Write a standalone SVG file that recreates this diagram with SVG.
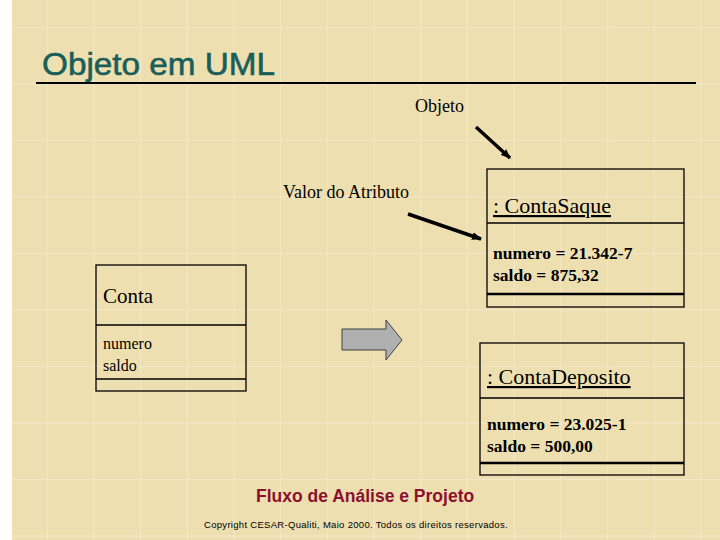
<svg xmlns="http://www.w3.org/2000/svg" width="720" height="540" viewBox="0 0 720 540">
<defs>
<pattern id="grid" x="0" y="27" width="46.7" height="56.5" patternUnits="userSpaceOnUse">
<path d="M0 0H46.7M0 0V56.5" fill="none" stroke="#f6ead0" stroke-width="1.5"/>
</pattern>
<marker id="ah" markerWidth="10" markerHeight="8" refX="9" refY="4" orient="auto" markerUnits="userSpaceOnUse"><path d="M0 0L10 4L0 8z" fill="#000"/></marker>
<style>
.box{fill:none;stroke:#000;stroke-width:1.3}
.t{font-family:"Liberation Serif",serif;fill:#000}
.b{font-family:"Liberation Serif",serif;font-weight:bold;font-size:17.5px;fill:#000}
</style>
</defs>
<rect width="720" height="540" fill="#fff"/>
<rect x="12" y="0" width="708" height="540" fill="#eedfb0"/>
<rect x="12" y="0" width="708" height="540" fill="url(#grid)"/>
<text x="42" y="75" font-family="Liberation Sans,Arial,sans-serif" font-size="32" stroke="#1a5e5a" stroke-width="0.6" fill="#1a5e5a" textLength="233" lengthAdjust="spacingAndGlyphs">Objeto em UML</text>
<line x1="36" y1="83" x2="696" y2="83" stroke="#000" stroke-width="2"/>
<text class="t" x="415" y="112" font-size="18">Objeto</text>
<text class="t" x="283" y="198" font-size="18">Valor do Atributo</text>
<g id="connectors" stroke="#000" stroke-width="3.5">
<line x1="476" y1="127" x2="510" y2="158" marker-end="url(#ah)"/>
<line x1="408" y1="214" x2="481" y2="239" marker-end="url(#ah)"/>
</g>
<g id="conta">
<rect class="box" x="96" y="265" width="150" height="126"/>
<line class="box" x1="96" y1="325" x2="246" y2="325"/>
<line class="box" x1="96" y1="379" x2="246" y2="379"/>
<text class="t" x="103" y="303" font-size="21">Conta</text>
<text class="t" x="103" y="349" font-size="16">numero</text>
<text class="t" x="103" y="371" font-size="16">saldo</text>
</g>
<g id="blockarrow">
<path d="M342 329H386V320L402 340L386 360V350H342Z" fill="#b0b0b0" stroke="#404040" stroke-width="1"/>
</g>
<g id="contasaque">
<rect class="box" x="487" y="169" width="197" height="138"/>
<line class="box" x1="487" y1="223" x2="684" y2="223"/>
<line x1="487" y1="294" x2="684" y2="294" stroke="#000" stroke-width="2.5"/>
<text class="t" x="493" y="213" font-size="22" text-decoration="underline">: ContaSaque</text>
<text class="b" x="493" y="259">numero = 21.342-7</text>
<text class="b" x="493" y="281">saldo = 875,32</text>
</g>
<g id="contadeposito">
<rect class="box" x="480" y="343" width="204" height="132"/>
<line class="box" x1="480" y1="398" x2="684" y2="398"/>
<line x1="480" y1="463" x2="684" y2="463" stroke="#000" stroke-width="2.5"/>
<text class="t" x="487" y="384" font-size="22" text-decoration="underline">: ContaDeposito</text>
<text class="b" x="487" y="430">numero = 23.025-1</text>
<text class="b" x="487" y="452">saldo = 500,00</text>
</g>
<text x="256" y="502" font-family="Liberation Sans,Arial,sans-serif" font-weight="bold" font-size="17.5" fill="#8b1030">Fluxo de Análise e Projeto</text>
<text x="204" y="528" font-family="Liberation Sans,Arial,sans-serif" font-size="9.5" letter-spacing="0.3" fill="#000">Copyright CESAR-Qualiti, Maio 2000. Todos os direitos reservados.</text>
</svg>
